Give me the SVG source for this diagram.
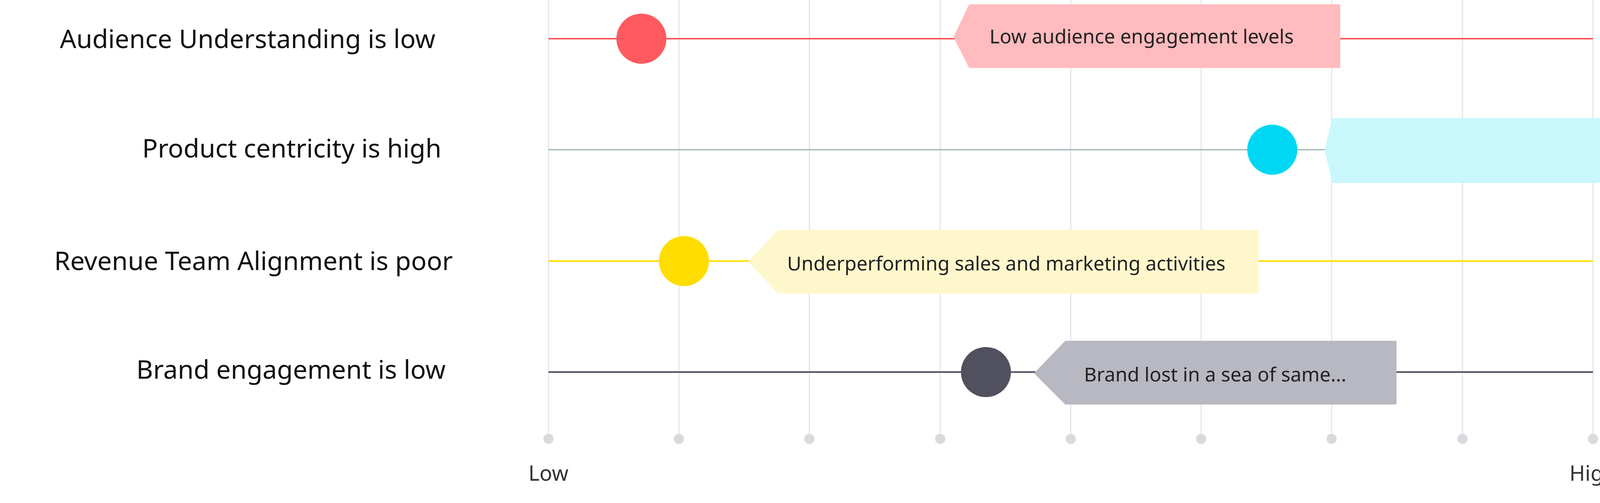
<svg xmlns="http://www.w3.org/2000/svg" width="4193" height="1287" viewBox="0 0 4193 1287">
<style>
.grid{stroke:#E6E6EA;stroke-width:3}
.lbl{font-family:"Noto Sans","Liberation Sans",sans-serif;font-size:66px;fill:#111;text-anchor:middle}
.ct{font-family:"Noto Sans","Liberation Sans",sans-serif;font-size:50px;fill:#222}
.ax{font-family:"Noto Sans","Liberation Sans",sans-serif;font-size:54px;fill:#333;text-anchor:middle}
.dot{fill:#D9D9DE}
</style>
<rect width="4193" height="1287" fill="#fff"/>
<g id="grid">
<line class="grid" x1="1404" y1="0" x2="1404" y2="1123"/>
<line class="grid" x1="1738" y1="0" x2="1738" y2="1123"/>
<line class="grid" x1="2072" y1="0" x2="2072" y2="1123"/>
<line class="grid" x1="2407" y1="0" x2="2407" y2="1123"/>
<line class="grid" x1="2741" y1="0" x2="2741" y2="1123"/>
<line class="grid" x1="3075" y1="0" x2="3075" y2="1123"/>
<line class="grid" x1="3409" y1="0" x2="3409" y2="1123"/>
<line class="grid" x1="3744" y1="0" x2="3744" y2="1123"/>
<line class="grid" x1="4078" y1="0" x2="4078" y2="1123"/>
<circle class="dot" cx="1404" cy="1123" r="13"/><circle class="dot" cx="1738" cy="1123" r="13"/><circle class="dot" cx="2072" cy="1123" r="13"/><circle class="dot" cx="2407" cy="1123" r="13"/><circle class="dot" cx="2741" cy="1123" r="13"/><circle class="dot" cx="3075" cy="1123" r="13"/><circle class="dot" cx="3409" cy="1123" r="13"/><circle class="dot" cx="3744" cy="1123" r="13"/><circle class="dot" cx="4078" cy="1123" r="13"/>
<text class="ax" x="1404" y="1230">Low</text>
<text class="ax" x="4078" y="1230">High</text>
</g>
<g id="connectors">
<line x1="1404" y1="99" x2="4078" y2="99" stroke="#FF5A5F" stroke-width="4"/>
<line x1="1404" y1="383" x2="3400" y2="383" stroke="#9AAFB2" stroke-width="3"/>
<line x1="1404" y1="668" x2="4078" y2="668" stroke="#FFDD00" stroke-width="4"/>
<line x1="1404" y1="952" x2="4078" y2="952" stroke="#50505F" stroke-width="4"/>
</g>
<g id="row1">
<text class="lbl" x="634" y="123">Audience Understanding is low</text>
<circle cx="1642" cy="99" r="64" fill="#FF5A5F"/>
<polygon points="2441,95 2481,11 3431,11 3431,174 2481,174" fill="#FFBBBE"/>
<text class="ct" x="2533" y="111">Low audience engagement levels</text>
</g>
<g id="row2">
<text class="lbl" x="747" y="403">Product centricity is high</text>
<circle cx="3257" cy="383" r="64" fill="#00D7F2"/>
<polygon points="3391,383 3411,302 4193,302 4193,468 3411,468" fill="#C8F7FC"/>
</g>
<g id="row3">
<text class="lbl" x="649" y="691">Revenue Team Alignment is poor</text>
<circle cx="1751" cy="668" r="64" fill="#FFDD00"/>
<polygon points="1915,670 1992,588 3222,588 3222,751 1992,751" fill="#FFF7CC"/>
<text class="ct" x="2015" y="692">Underperforming sales and marketing activities</text>
</g>
<g id="row4">
<text class="lbl" x="745" y="969">Brand engagement is low</text>
<circle cx="2524" cy="952" r="64" fill="#50505F"/>
<polygon points="2647,955 2727,872 3575,872 3575,1035 2727,1035" fill="#B8B8C2"/>
<text class="ct" x="2775" y="976">Brand lost in a sea of same...</text>
</g>
</svg>
